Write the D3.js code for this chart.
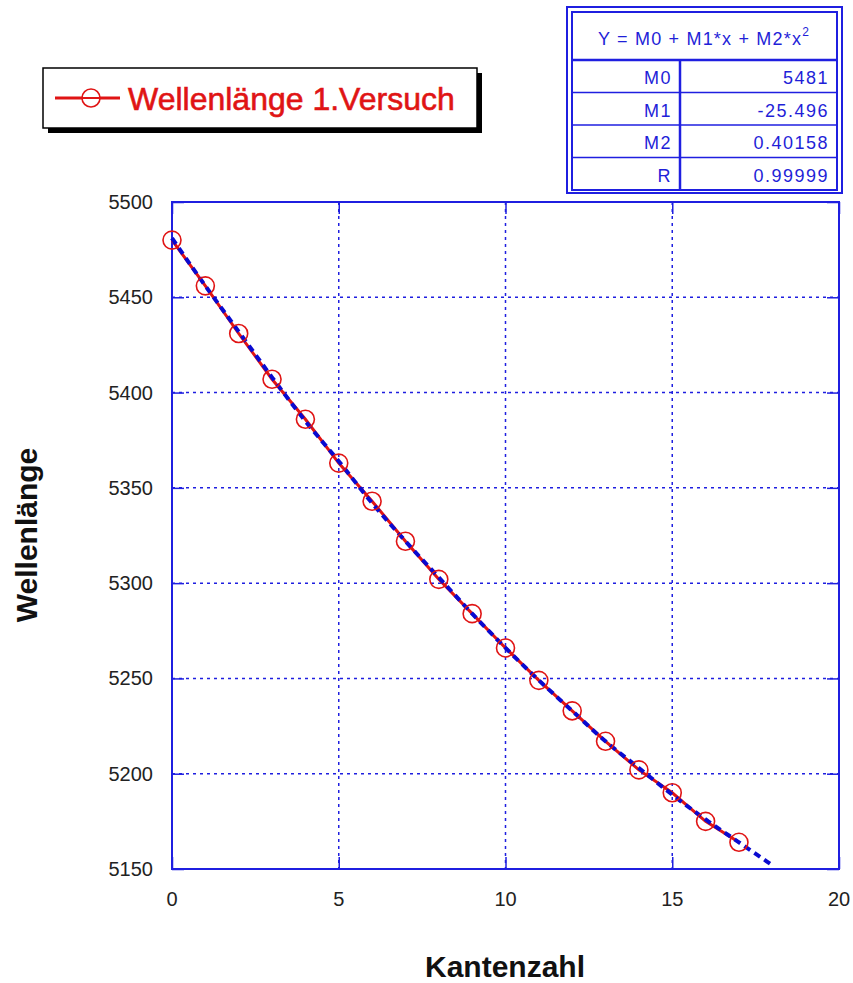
<!DOCTYPE html>
<html lang="de">
<head>
<meta charset="UTF-8">
<title>Wellenlänge 1.Versuch</title>
<script src="https://d3js.org/d3.v7.min.js"></script>
<style>
    body { margin: 0; background: #fff; }
    svg { display: block; }
    .tick-label { font-family: 'Liberation Sans', Arial, sans-serif; font-size: 20px; fill: #222; }
    .title { font-family: 'Liberation Sans', Arial, sans-serif; font-size: 30px; font-weight: bold; fill: #111; }
    .tbl { font-family: 'Liberation Sans', Arial, sans-serif; font-size: 18px; fill: #1f1fd8; letter-spacing: 1.5px; }
</style>
</head>
<body>
<svg width="853" height="983"></svg>
<script>
// Messwerte (Kantenzahl -> Wellenlänge)
const kanten = [0, 1, 2, 3, 4, 5, 6, 7, 8, 9, 10, 11, 12, 13, 14, 15, 16, 17];
const wellenlaenge = [5480, 5456, 5431, 5407, 5386, 5363, 5343, 5322, 5302, 5284, 5266, 5249, 5233, 5217, 5202, 5190, 5175, 5164];

// Ausgleichskurve
const fitX = [0, 1, 2, 3, 4, 5, 6, 7, 8, 9, 10, 11, 12, 13, 14, 15, 16, 17, 18];
const fitY = [5481, 5456, 5432, 5408, 5385, 5364, 5342, 5322, 5303, 5284, 5266, 5249, 5233, 5217, 5203, 5189, 5176, 5164, 5152];

// Parameter-Tabelle
const paramNames = ["M0", "M1", "M2", "R"];
const paramValues = ["5481", "-25.496", "0.40158", "0.99999"];

const xTicks = [0, 5, 10, 15, 20];
const yTicks = [5150, 5200, 5250, 5300, 5350, 5400, 5450, 5500];

const svg = d3.select("svg");
const blue = "#1f1fe0";
const red = "#e01414";

const pLeft = 172, pRight = 839, pTop = 202, pBottom = 869;
const x = d3.scaleLinear().domain([0, 20]).range([pLeft, pRight]);
const y = d3.scaleLinear().domain([5150, 5500]).range([pBottom, pTop]);

svg.append("rect").attr("width", 853).attr("height", 983).attr("fill", "#fff");

// Gitter (gepunktet)
svg.selectAll(".vgrid")
    .data(xTicks.slice(1, -1))
    .enter()
    .append("line")
    .attr("x1", d => x(d)).attr("x2", d => x(d))
    .attr("y1", pTop).attr("y2", pBottom)
    .attr("stroke", blue).attr("stroke-width", 1.5)
    .attr("stroke-dasharray", "3,4");

svg.selectAll(".hgrid")
    .data(yTicks.slice(1, -1))
    .enter()
    .append("line")
    .attr("x1", pLeft).attr("x2", pRight)
    .attr("y1", d => y(d)).attr("y2", d => y(d))
    .attr("stroke", blue).attr("stroke-width", 1.5)
    .attr("stroke-dasharray", "3,4");

// Achsen mit Ticks nach innen
const tickLen = 12;
const axB = svg.append("g").attr("transform", `translate(0,${pBottom})`)
    .call(d3.axisTop(x).tickValues(xTicks).tickSize(tickLen).tickFormat(""));
const axT = svg.append("g").attr("transform", `translate(0,${pTop})`)
    .call(d3.axisBottom(x).tickValues(xTicks).tickSize(tickLen).tickFormat(""));
const axL = svg.append("g").attr("transform", `translate(${pLeft},0)`)
    .call(d3.axisRight(y).tickValues(yTicks).tickSize(tickLen).tickFormat(""));
const axR = svg.append("g").attr("transform", `translate(${pRight},0)`)
    .call(d3.axisLeft(y).tickValues(yTicks).tickSize(tickLen).tickFormat(""));
[axB, axT, axL, axR].forEach(g => {
    g.select(".domain").remove();
    g.selectAll("line").attr("stroke", blue).attr("stroke-width", 1.5);
});

svg.append("rect")
    .attr("x", pLeft).attr("y", pTop)
    .attr("width", pRight - pLeft).attr("height", pBottom - pTop)
    .attr("fill", "none").attr("stroke", blue).attr("stroke-width", 2);

// Tick-Beschriftung
svg.selectAll(".xlab")
    .data(xTicks)
    .enter()
    .append("text")
    .attr("class", "tick-label")
    .attr("x", d => x(d)).attr("y", 906)
    .attr("text-anchor", "middle")
    .text(d => d);

svg.selectAll(".ylab")
    .data(yTicks)
    .enter()
    .append("text")
    .attr("class", "tick-label")
    .attr("x", 153).attr("y", d => y(d) + 7)
    .attr("text-anchor", "end")
    .text(d => d);

// Achsentitel
svg.append("text").attr("class", "title")
    .attr("x", 505).attr("y", 977)
    .attr("text-anchor", "middle")
    .text("Kantenzahl");

svg.append("text").attr("class", "title")
    .attr("transform", "translate(37,535) rotate(-90)")
    .attr("text-anchor", "middle")
    .text("Wellenlänge");

// Messkurve
const pts = kanten.map((k, i) => [k, wellenlaenge[i]]);
svg.append("path")
    .datum(pts)
    .attr("fill", "none")
    .attr("stroke", red).attr("stroke-width", 3)
    .attr("d", d3.line().x(d => x(d[0])).y(d => y(d[1])));

// Ausgleichskurve (gestrichelt)
const fitPts = fitX.map((k, i) => [k, fitY[i]]);
svg.append("path")
    .datum(fitPts)
    .attr("fill", "none")
    .attr("stroke", "#0a0ad0").attr("stroke-width", 4)
    .attr("stroke-dasharray", "7,5")
    .attr("d", d3.line().curve(d3.curveMonotoneX).x(d => x(d[0])).y(d => y(d[1])));

svg.selectAll(".pt")
    .data(pts)
    .enter()
    .append("circle")
    .attr("cx", d => x(d[0])).attr("cy", d => y(d[1]))
    .attr("r", 9)
    .attr("fill", "none")
    .attr("stroke", red).attr("stroke-width", 1.6);

// Legende
const leg = svg.append("g");
leg.append("rect").attr("x", 48).attr("y", 73).attr("width", 434).attr("height", 60).attr("fill", "#000");
leg.append("rect").attr("x", 43).attr("y", 68).attr("width", 434).attr("height", 60)
    .attr("fill", "#fff").attr("stroke", "#000").attr("stroke-width", 1.5);
leg.append("line").attr("x1", 55).attr("x2", 120).attr("y1", 98).attr("y2", 98)
    .attr("stroke", red).attr("stroke-width", 3);
leg.append("circle").attr("cx", 91).attr("cy", 98).attr("r", 9)
    .attr("fill", "#fff").attr("stroke", red).attr("stroke-width", 1.6);
leg.append("line").attr("x1", 82).attr("x2", 100).attr("y1", 98).attr("y2", 98)
    .attr("stroke", red).attr("stroke-width", 2);
leg.append("text")
    .attr("x", 128).attr("y", 110)
    .style("font-family", "'Liberation Sans', Arial, sans-serif")
    .style("font-size", "32px").style("font-weight", "normal")
    .style("stroke", red).style("stroke-width", 0.6)
    .attr("fill", red)
    .text("Wellenlänge 1.Versuch");

// Parametertabelle
const tb = svg.append("g");
const tL = 567, tR = 842, tT = 7, tB = 193;
const iL = 572, iR = 837, iT = 12, iB = 190;
tb.append("rect").attr("x", tL).attr("y", tT).attr("width", tR - tL).attr("height", tB - tT)
    .attr("fill", "#fff").attr("stroke", blue).attr("stroke-width", 2);
tb.append("rect").attr("x", iL).attr("y", iT).attr("width", iR - iL).attr("height", iB - iT)
    .attr("fill", "none").attr("stroke", blue).attr("stroke-width", 2);

const headB = 60;
const rowH = (iB - headB) / paramNames.length;
tb.selectAll(".rowline")
    .data(paramNames)
    .enter()
    .append("line")
    .attr("x1", iL).attr("x2", iR)
    .attr("y1", (d, i) => headB + i * rowH).attr("y2", (d, i) => headB + i * rowH)
    .attr("stroke", blue).attr("stroke-width", (d, i) => i === 0 ? 2.5 : 1.5);
tb.append("line").attr("x1", 680).attr("x2", 680).attr("y1", headB).attr("y2", iB)
    .attr("stroke", blue).attr("stroke-width", 2.5);

const head = tb.append("text").attr("class", "tbl")
    .attr("x", 704).attr("y", 45).attr("text-anchor", "middle").style("letter-spacing", "1.2px");
head.append("tspan").text("Y = M0 + M1*x + M2*x");
head.append("tspan").attr("dy", -9).style("font-size", "12px").text("2");

tb.selectAll(".pname")
    .data(paramNames)
    .enter()
    .append("text")
    .attr("class", "tbl")
    .attr("x", 672).attr("y", (d, i) => headB + i * rowH + 24)
    .attr("text-anchor", "end")
    .text(d => d);

tb.selectAll(".pval")
    .data(paramValues)
    .enter()
    .append("text")
    .attr("class", "tbl")
    .attr("x", 829).attr("y", (d, i) => headB + i * rowH + 24)
    .attr("text-anchor", "end")
    .text(d => d);
</script>
</body>
</html>
